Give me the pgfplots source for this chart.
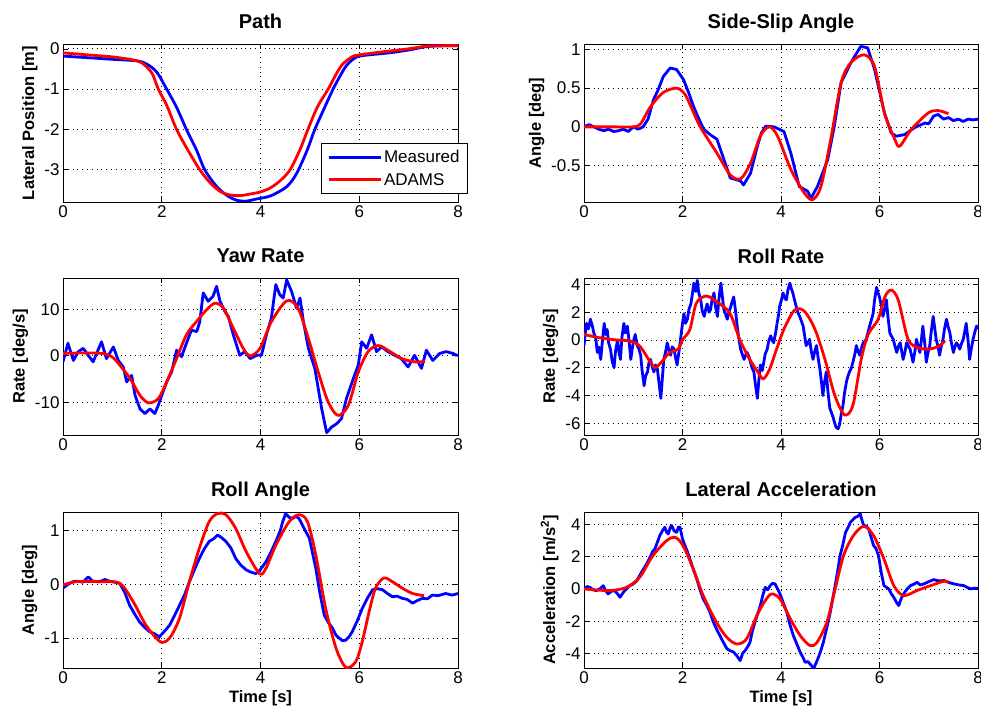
\documentclass[border=0pt]{standalone}
\usepackage{fontspec}
\setmainfont{Liberation Sans}
\usepackage{pgfplots}
\pgfplotsset{compat=1.18}
\definecolor{mblue}{RGB}{0,0,255}
\definecolor{mred}{RGB}{255,0,0}
\pgfplotsset{
  myax/.style={
    scale only axis,
    xmin=0, xmax=8, xtick={0,2,4,6,8},
    grid=major,
    major grid style={black, line width=0.7pt, dash pattern=on 0.8pt off 4pt},
    tick align=inside, major tick length=5pt,
    tick style={black, line width=0.6pt},
    axis line style={black, line width=0.8pt},
    ticklabel style={font=\fontsize{17}{19}\selectfont},
    label style={font=\bfseries\fontsize{16.5}{19}\selectfont},
    title style={font=\bfseries\fontsize{20}{22}\selectfont, at={(0.5,1)}, anchor=base, yshift=9pt},
    /pgf/number format/assume math mode=true,
    yticklabel style={/pgf/number format/fixed},
  },
  meas/.style={mblue, line width=2.8pt, line join=round},
  adams/.style={mred, line width=2.8pt, line join=round, smooth},
}
\begin{document}
\begin{tikzpicture}
\useasboundingbox (0,0) rectangle (981pt,715pt);
% ---------- Path
\begin{axis}[myax, at={(63pt,513pt)}, anchor=south west, width=395pt, height=158pt,
  ymin=-3.8, ymax=0.12, ytick={-3,-2,-1,0},
  title={Path}, ylabel={Lateral Position [m]},
  legend style={at={(axis description cs:0.653,0.373)}, anchor=north west, draw=black, line width=0.6pt,
     font=\fontsize{17}{19}\selectfont, inner xsep=6pt, inner ysep=5pt, row sep=5pt, cells={anchor=west},
     /tikz/every even column/.append style={column sep=4pt}},
  legend image code/.code={\draw[#1] (0pt,0pt) -- (52pt,0pt);},
  legend cell align=left]
\addplot[meas, smooth] coordinates {(0,-0.18)(0.5,-0.22)(1,-0.26)(1.5,-0.3)(1.7,-0.38)(1.9,-0.58)(2.1,-1)(2.3,-1.45)(2.5,-2)(2.7,-2.5)(2.87,-3)(3.1,-3.4)(3.3,-3.62)(3.5,-3.75)(3.7,-3.78)(3.9,-3.73)(4.2,-3.65)(4.5,-3.45)(4.65,-3.25)(4.77,-3)(4.95,-2.5)(5.1,-2)(5.3,-1.45)(5.47,-1)(5.6,-0.7)(5.75,-0.4)(5.95,-0.2)(6.2,-0.15)(6.6,-0.1)(7.0,-0.03)(7.4,0.06)(8,0.08)};
\addlegendentry{Measured}
\addplot[adams] coordinates {(0,-0.1)(0.5,-0.15)(1,-0.2)(1.4,-0.27)(1.6,-0.35)(1.8,-0.6)(1.93,-1)(2.1,-1.4)(2.3,-2)(2.5,-2.45)(2.77,-3)(3.0,-3.35)(3.2,-3.55)(3.4,-3.63)(3.6,-3.64)(3.8,-3.6)(4.0,-3.55)(4.2,-3.45)(4.4,-3.27)(4.6,-3.0)(4.8,-2.5)(4.96,-2)(5.15,-1.45)(5.37,-1)(5.5,-0.7)(5.65,-0.4)(5.85,-0.2)(6.0,-0.15)(6.5,-0.07)(7.0,0.0)(7.4,0.07)(8,0.08)};
\addlegendentry{ADAMS}
\end{axis}
% ---------- Side-slip
\begin{axis}[myax, at={(584pt,513pt)}, anchor=south west, width=394pt, height=158pt,
  ymin=-0.97, ymax=1.07, ytick={-0.5,0,0.5,1},
  title={Side-Slip Angle}, ylabel={Angle [deg]}]
\addplot[meas] coordinates {(0,0.0)(0.1,0.03)(0.2,0.0)(0.3,-0.03)(0.4,-0.05)(0.5,-0.03)(0.6,-0.06)(0.7,-0.05)(0.8,-0.03)(0.9,-0.06)(1.0,0.0)(1.1,-0.03)(1.2,0.0)(1.3,0.1)(1.41,0.35)(1.5,0.47)(1.61,0.65)(1.75,0.76)(1.88,0.74)(2.02,0.61)(2.12,0.45)(2.22,0.27)(2.32,0.12)(2.43,-0.03)(2.56,-0.1)(2.7,-0.16)(2.84,-0.42)(2.97,-0.66)(3.08,-0.68)(3.18,-0.7)(3.24,-0.75)(3.38,-0.6)(3.52,-0.25)(3.6,-0.08)(3.69,0.01)(3.86,0.0)(4.06,-0.06)(4.2,-0.34)(4.37,-0.77)(4.54,-0.83)(4.61,-0.92)(4.74,-0.77)(4.95,-0.42)(5.08,0.0)(5.22,0.57)(5.42,0.83)(5.62,1.04)(5.76,1.02)(5.9,0.74)(6.1,0.18)(6.24,-0.08)(6.34,-0.12)(6.51,-0.1)(6.71,-0.01)(6.92,0.05)(7.0,0.04)(7.1,0.14)(7.19,0.16)(7.3,0.1)(7.4,0.12)(7.5,0.08)(7.6,0.1)(7.7,0.07)(7.8,0.1)(7.9,0.09)(8,0.1)};
\addplot[adams] coordinates {(0,0)(0.6,0)(1.0,0.0)(1.15,0.04)(1.34,0.25)(1.6,0.44)(1.88,0.5)(2.05,0.42)(2.2,0.22)(2.36,0.0)(2.7,-0.34)(2.97,-0.62)(3.18,-0.67)(3.38,-0.47)(3.58,-0.12)(3.76,0.0)(3.93,-0.12)(4.2,-0.55)(4.47,-0.85)(4.64,-0.94)(4.81,-0.77)(5.01,-0.16)(5.22,0.57)(5.42,0.83)(5.69,0.93)(5.9,0.78)(6.1,0.18)(6.31,-0.16)(6.41,-0.25)(6.65,-0.03)(6.99,0.18)(7.19,0.21)(7.4,0.17)};
\end{axis}
% ---------- Yaw rate
\begin{axis}[myax, at={(63pt,280pt)}, anchor=south west, width=395pt, height=157pt,
  ymin=-17, ymax=16.7, ytick={-10,0,10},
  title={Yaw Rate}, ylabel={Rate [deg/s]}]
\addplot[meas] coordinates {(0,-1.3)(0.1,2.7)(0.21,-1)(0.31,0.9)(0.41,1.6)(0.51,0.1)(0.61,-1.3)(0.7,1)(0.78,3)(0.88,-0.6)(1.02,1.9)(1.12,-1)(1.22,-2.4)(1.29,-5.6)(1.39,-4.2)(1.46,-8.5)(1.56,-11.4)(1.66,-12.4)(1.76,-11.4)(1.86,-12.4)(1.93,-10.6)(2.0,-8.5)(2.1,-5.6)(2.2,-3.5)(2.3,1.2)(2.4,-0.2)(2.5,2.7)(2.6,5.5)(2.71,5.2)(2.77,7.3)(2.84,13.5)(2.94,11.7)(3.04,12.8)(3.11,14.9)(3.18,11.7)(3.28,9.5)(3.35,8.4)(3.45,4.5)(3.58,0.1)(3.68,0.9)(3.79,-0.6)(3.92,0.1)(4.02,0.1)(4.12,4.5)(4.22,8.1)(4.31,15.3)(4.39,13.1)(4.46,12.4)(4.53,16.3)(4.63,13.8)(4.73,10.2)(4.8,12.4)(4.87,7.3)(4.97,1.6)(5.1,-2.7)(5.24,-11.4)(5.34,-16.5)(5.44,-15.3)(5.54,-14.6)(5.64,-13.5)(5.74,-9.2)(5.88,-4.9)(5.98,-2)(6.05,3)(6.15,1.6)(6.25,4.5)(6.35,0.9)(6.45,1.9)(6.58,0.9)(6.72,0.1)(6.85,-0.6)(6.99,-2.4)(7.12,0.1)(7.26,-2.7)(7.36,1.2)(7.49,-1)(7.63,0.5)(7.76,0.9)(7.9,0.5)(7.97,0.1)(8,0.2)};
\addplot[adams] coordinates {(0,0.5)(0.4,0.6)(0.8,0.5)(1.0,-0.3)(1.15,-2)(1.36,-4.9)(1.56,-8.5)(1.73,-10.1)(1.93,-9.2)(2.1,-5.6)(2.3,-0.6)(2.5,4.5)(2.7,7.3)(2.91,9.9)(3.08,11.3)(3.25,10.2)(3.45,5.9)(3.65,1.6)(3.79,0)(3.99,1.6)(4.22,7.3)(4.53,11.8)(4.76,10.2)(4.97,3.7)(5.17,-3.5)(5.37,-9.9)(5.57,-12.8)(5.78,-10.6)(5.98,-3.5)(6.18,0.9)(6.38,2.2)(6.58,1.2)(6.86,-0.6)(7.13,-1.3)(7.33,-1.2)};
\end{axis}
% ---------- Roll rate
\begin{axis}[myax, at={(584pt,280pt)}, anchor=south west, width=394pt, height=157pt,
  ymin=-6.85, ymax=4.47, ytick={-6,-4,-2,0,2,4},
  title={Roll Rate}, ylabel={Rate [deg/s]}]
\addplot[meas] coordinates {(0,-0.4)(0.03,0.6)(0.05,1.2)(0.09,0.8)(0.13,1.5)(0.17,1.0)(0.2,0.5)(0.24,0.1)(0.27,-0.9)(0.3,-0.5)(0.34,-1.4)(0.37,-0.2)(0.41,1.2)(0.44,0.4)(0.47,0.75)(0.5,-0.2)(0.54,-0.7)(0.57,-1.5)(0.61,-2.0)(0.64,-0.8)(0.68,0)(0.71,-0.9)(0.74,-1.4)(0.77,0.2)(0.81,1.2)(0.84,0.5)(0.88,1.0)(0.91,0.1)(0.95,-1.4)(0.98,-0.6)(1.01,0)(1.04,0.4)(1.08,-0.4)(1.11,-0.6)(1.15,-1.1)(1.18,-2.2)(1.22,-3.3)(1.25,-2.6)(1.29,-2.3)(1.32,-1.6)(1.35,-1.4)(1.39,-2.0)(1.42,-2.3)(1.45,-1.8)(1.49,-2.1)(1.52,-3.0)(1.56,-4.2)(1.59,-2.8)(1.62,-1.4)(1.66,-0.8)(1.69,-0.2)(1.72,-0.7)(1.76,-1.1)(1.79,-0.5)(1.83,-0.66)(1.86,-1.3)(1.89,-1.8)(1.93,-0.8)(1.96,0.05)(2.0,1.2)(2.03,1.9)(2.06,1.2)(2.1,1.5)(2.13,2.2)(2.17,2.6)(2.2,3.3)(2.23,4.1)(2.27,3.5)(2.3,4.3)(2.33,3.4)(2.37,2.9)(2.4,2.1)(2.44,1.7)(2.47,2.2)(2.5,2.6)(2.54,2.0)(2.57,2.2)(2.6,2.9)(2.64,3.4)(2.67,2.4)(2.71,1.7)(2.74,3.0)(2.78,4.1)(2.81,3.1)(2.84,2.2)(2.88,1.8)(2.91,1.5)(2.94,2.0)(2.98,2.4)(3.01,2.8)(3.04,3.1)(3.08,2.0)(3.11,1.0)(3.14,0.2)(3.18,-0.66)(3.21,-1.0)(3.25,-1.4)(3.28,-1.1)(3.31,-0.9)(3.35,-1.2)(3.38,-1.6)(3.41,-2.0)(3.45,-2.3)(3.48,-3.2)(3.52,-4.2)(3.55,-2.9)(3.58,-1.8)(3.62,-2.2)(3.65,-1.6)(3.68,-1.0)(3.72,-0.66)(3.75,-0.1)(3.79,0.3)(3.82,0.0)(3.85,-0.2)(3.89,0.5)(3.92,1.2)(3.95,1.8)(3.97,2.4)(4.01,2.9)(4.04,3.4)(4.08,3.0)(4.11,2.9)(4.14,3.6)(4.18,4.1)(4.21,3.7)(4.24,3.4)(4.28,2.8)(4.31,2.4)(4.34,2.0)(4.38,1.7)(4.41,1.4)(4.45,1.0)(4.48,0.3)(4.51,-0.4)(4.55,-0.2)(4.58,0.05)(4.61,-0.7)(4.65,-1.4)(4.68,-0.9)(4.72,-0.4)(4.75,-1.2)(4.79,-2.1)(4.82,-3.0)(4.85,-4.0)(4.88,-3.1)(4.92,-2.3)(4.95,-3.6)(4.99,-4.9)(5.02,-5.2)(5.06,-5.6)(5.09,-6.0)(5.12,-6.3)(5.16,-6.4)(5.19,-6.1)(5.22,-5.4)(5.26,-4.7)(5.29,-3.8)(5.33,-3.0)(5.36,-2.6)(5.39,-2.3)(5.43,-2.0)(5.46,-1.6)(5.5,-1.0)(5.53,-0.4)(5.56,-0.8)(5.6,-1.1)(5.63,-0.6)(5.67,-0.2)(5.7,-0.1)(5.73,0.05)(5.77,0.6)(5.8,1.0)(5.83,1.4)(5.87,1.9)(5.9,2.9)(5.94,3.8)(5.97,3.4)(6.0,3.1)(6.04,2.4)(6.07,1.7)(6.11,2.3)(6.14,2.9)(6.17,1.7)(6.21,0.5)(6.24,0.3)(6.28,0.05)(6.31,-0.4)(6.35,-0.9)(6.38,-0.5)(6.42,-0.2)(6.45,-0.8)(6.48,-1.4)(6.52,-0.8)(6.55,-0.2)(6.58,-0.4)(6.62,-0.66)(6.65,-1.1)(6.68,-1.6)(6.72,-0.8)(6.75,0.05)(6.78,-0.4)(6.82,-0.9)(6.85,0.0)(6.88,1.0)(6.92,-0.3)(6.95,-1.6)(6.98,-1.0)(7.02,-0.4)(7.05,0.6)(7.09,1.7)(7.12,0.9)(7.15,0.05)(7.19,-0.5)(7.22,-1.1)(7.25,-0.5)(7.29,0.05)(7.32,0.8)(7.36,1.5)(7.39,1.0)(7.43,0.5)(7.46,-0.2)(7.5,-0.9)(7.53,-0.5)(7.56,-0.2)(7.6,-0.4)(7.63,-0.66)(7.66,-0.3)(7.7,0.05)(7.73,0.6)(7.76,1.2)(7.8,-0.1)(7.83,-1.4)(7.86,-0.7)(7.9,0.05)(7.93,0.5)(7.97,1.0)(8,0.8)};
\addplot[adams] coordinates {(0,0.4)(0.3,0.17)(0.66,0)(0.93,-0.07)(1.13,-0.43)(1.33,-1.5)(1.44,-2.0)(1.57,-1.6)(1.74,-0.9)(1.91,-0.66)(2.01,0.05)(2.15,0.76)(2.28,2.65)(2.48,3.17)(2.69,2.77)(2.96,1.94)(3.16,0.05)(3.36,-1.37)(3.53,-2.3)(3.64,-2.8)(3.77,-2.1)(3.91,-0.66)(4.07,0.87)(4.28,2.17)(4.48,2.06)(4.69,0.76)(4.89,-1.37)(5.09,-3.97)(5.29,-5.4)(5.46,-4.7)(5.63,-1.37)(5.77,0.4)(5.97,1.47)(6.11,3.12)(6.24,3.6)(6.38,2.88)(6.58,0.05)(6.78,-0.54)(6.99,-0.66)(7.19,-0.47)(7.33,-0.07)};
\end{axis}
% ---------- Roll angle
\begin{axis}[myax, at={(63pt,47pt)}, anchor=south west, width=395pt, height=156pt,
  ymin=-1.56, ymax=1.35, ytick={-1,0,1},
  title={Roll Angle}, ylabel={Angle [deg]}, xlabel={Time [s]}]
\addplot[meas] coordinates {(0,-0.07)(0.1,0.0)(0.2,0.05)(0.3,0.06)(0.4,0.04)(0.51,0.14)(0.6,0.06)(0.74,0.05)(0.85,0.09)(0.94,0.06)(1.05,0.04)(1.15,0.02)(1.25,-0.15)(1.35,-0.39)(1.45,-0.55)(1.55,-0.7)(1.65,-0.8)(1.75,-0.88)(1.85,-0.92)(1.95,-0.98)(2.05,-0.88)(2.16,-0.76)(2.26,-0.58)(2.36,-0.39)(2.46,-0.2)(2.56,0.05)(2.66,0.27)(2.76,0.48)(2.86,0.66)(2.96,0.8)(3.05,0.85)(3.13,0.92)(3.2,0.88)(3.3,0.8)(3.4,0.68)(3.5,0.48)(3.6,0.36)(3.71,0.27)(3.8,0.23)(3.91,0.2)(4.0,0.28)(4.11,0.42)(4.21,0.6)(4.31,0.8)(4.4,1.0)(4.45,1.17)(4.51,1.32)(4.58,1.25)(4.65,1.23)(4.72,1.27)(4.78,1.23)(4.88,1.05)(4.99,0.86)(5.05,0.6)(5.12,0.3)(5.2,-0.15)(5.29,-0.57)(5.38,-0.72)(5.46,-0.82)(5.53,-0.95)(5.59,-1.0)(5.66,-1.05)(5.73,-1.04)(5.8,-0.97)(5.86,-0.88)(5.96,-0.68)(6.06,-0.45)(6.17,-0.25)(6.27,-0.1)(6.37,-0.08)(6.47,-0.1)(6.57,-0.17)(6.67,-0.23)(6.77,-0.22)(6.87,-0.26)(6.97,-0.28)(7.08,-0.35)(7.18,-0.3)(7.28,-0.26)(7.38,-0.27)(7.48,-0.2)(7.6,-0.21)(7.75,-0.17)(7.88,-0.2)(8,-0.17)};
\addplot[adams] coordinates {(0,-0.01)(0.27,0.05)(0.74,0.05)(1.15,0.02)(1.42,-0.32)(1.68,-0.76)(1.97,-1.07)(2.16,-1.0)(2.36,-0.63)(2.56,0.05)(2.76,0.67)(2.96,1.17)(3.13,1.32)(3.3,1.3)(3.5,1.04)(3.71,0.61)(3.98,0.2)(4.11,0.3)(4.31,0.73)(4.58,1.17)(4.78,1.3)(4.95,1.17)(5.12,0.55)(5.32,-0.45)(5.53,-1.19)(5.73,-1.55)(5.93,-1.44)(6.06,-1.07)(6.2,-0.51)(6.33,-0.07)(6.5,0.12)(6.67,0.05)(6.87,-0.07)(7.08,-0.17)(7.31,-0.21)};
\end{axis}
% ---------- Lateral acceleration
\begin{axis}[myax, at={(584pt,47pt)}, anchor=south west, width=394pt, height=156pt,
  ymin=-4.9, ymax=4.77, ytick={-4,-2,0,2,4},
  title={Lateral Acceleration}, ylabel={Acceleration [m/s\textsuperscript{2}]}, xlabel={Time [s]}]
\addplot[meas] coordinates {(0,0)(0.06,0.15)(0.12,0.1)(0.18,-0.05)(0.25,-0.1)(0.32,0.0)(0.39,0.2)(0.44,-0.1)(0.49,-0.31)(0.55,-0.15)(0.62,-0.1)(0.68,-0.3)(0.73,-0.52)(0.8,-0.2)(0.86,0)(0.93,0.2)(1.0,0.31)(1.07,0.5)(1.13,0.83)(1.18,1.1)(1.23,1.34)(1.28,1.6)(1.34,1.96)(1.39,2.3)(1.44,2.48)(1.49,2.9)(1.54,3.31)(1.59,3.6)(1.64,3.82)(1.68,3.5)(1.71,3.41)(1.75,3.8)(1.78,3.93)(1.83,3.6)(1.88,3.51)(1.92,3.85)(1.95,3.82)(2.0,3.1)(2.05,2.69)(2.1,2.3)(2.15,1.86)(2.22,1.2)(2.29,0.62)(2.35,0.0)(2.42,-0.62)(2.49,-1.0)(2.56,-1.45)(2.62,-2.0)(2.69,-2.48)(2.76,-2.9)(2.83,-3.31)(2.9,-3.7)(2.96,-3.82)(3.03,-3.9)(3.1,-4.13)(3.14,-4.3)(3.17,-4.44)(3.22,-4.0)(3.27,-3.82)(3.32,-3.6)(3.37,-3.31)(3.42,-2.6)(3.47,-2.07)(3.52,-1.6)(3.58,-1.03)(3.63,-0.4)(3.68,0.1)(3.73,-0.05)(3.78,0.21)(3.83,0.35)(3.88,0.31)(3.93,0.0)(3.98,-0.31)(4.05,-0.9)(4.12,-1.45)(4.18,-2.2)(4.25,-2.89)(4.32,-3.4)(4.39,-3.93)(4.44,-4.2)(4.49,-4.55)(4.54,-4.5)(4.59,-4.65)(4.63,-4.8)(4.66,-4.96)(4.71,-4.6)(4.76,-4.24)(4.81,-3.8)(4.86,-3.31)(4.93,-2.4)(5.0,-1.45)(5.05,-0.6)(5.1,0.21)(5.15,1.1)(5.2,2.07)(5.26,2.8)(5.31,3.51)(5.36,3.8)(5.41,4.13)(5.46,4.3)(5.51,4.44)(5.56,4.5)(5.61,4.65)(5.65,4.2)(5.68,3.93)(5.73,3.9)(5.78,3.72)(5.83,3.2)(5.88,2.69)(5.93,2.5)(5.98,2.07)(6.03,1.1)(6.09,0.21)(6.14,0.1)(6.19,0)(6.24,-0.3)(6.29,-0.52)(6.34,-0.8)(6.39,-1.03)(6.44,-0.6)(6.49,-0.31)(6.56,0.0)(6.63,0.21)(6.7,0.3)(6.76,0.41)(6.83,0.25)(6.9,0.31)(7.0,0.45)(7.1,0.58)(7.2,0.5)(7.31,0.52)(7.41,0.4)(7.51,0.31)(7.61,0.25)(7.71,0.21)(7.78,0.1)(7.85,0)(7.92,0.05)(8,0.04)};
\addplot[adams] coordinates {(0,0)(0.52,-0.1)(0.86,0.1)(1.13,0.72)(1.4,2.07)(1.68,3.0)(1.85,3.2)(2.01,2.69)(2.22,1.24)(2.42,-0.41)(2.69,-2.07)(2.9,-3.0)(3.1,-3.41)(3.3,-3.1)(3.51,-1.65)(3.68,-0.72)(3.81,-0.31)(3.98,-0.62)(4.19,-1.86)(4.39,-2.89)(4.59,-3.51)(4.73,-3.31)(4.93,-2.07)(5.1,0)(5.27,2.07)(5.47,3.31)(5.68,3.88)(5.88,3.31)(6.09,1.86)(6.29,0.21)(6.49,-0.41)(6.76,-0.1)(7.04,0.21)(7.31,0.48)(7.41,0.41)};
\end{axis}
\end{tikzpicture}
\end{document}
